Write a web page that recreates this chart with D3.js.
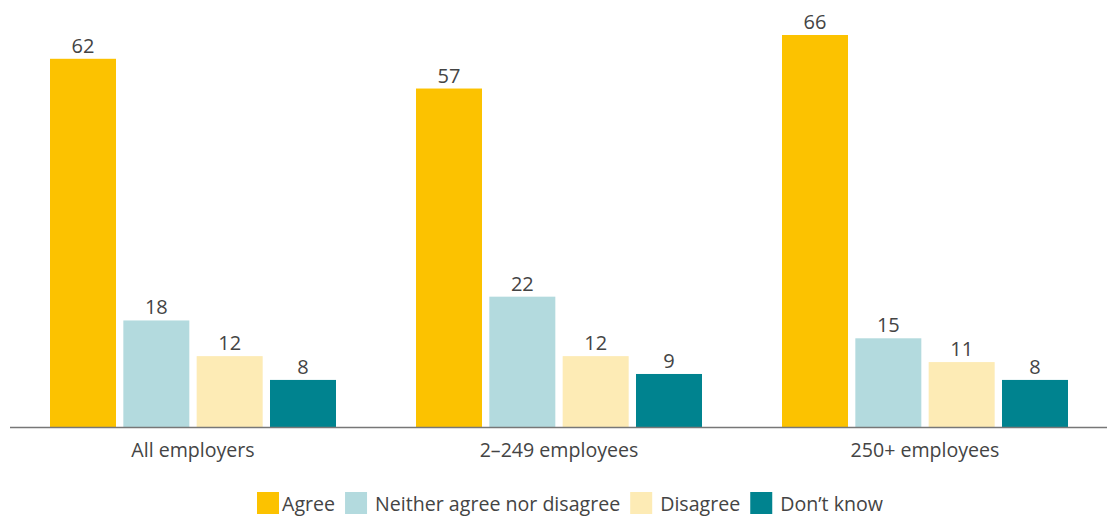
<!DOCTYPE html>
<html>
<head>
<meta charset="utf-8">
<script src="https://cdn.jsdelivr.net/npm/d3@7"></script>
<style>
  body { margin: 0; background: #fff; }
  text { font-family: "Open Sans", "Noto Sans", sans-serif; fill: #444; }
</style>
</head>
<body>
<div id="ChartArea"></div>
<script>
// ------------------------------------------------------------------
// data
const groups = ["All employers", "2\u2013249 employees", "250+ employees"]
const seriesNames = ["Agree", "Neither agree nor disagree", "Disagree", "Don\u2019t know"]
const agree = [62, 57, 66]
const neither = [18, 22, 15]
const disagree = [12, 12, 11]
const dontKnow = [8, 9, 8]
const colors = ["#FCC200", "#B3DADE", "#FDEBB5", "#00838F"]

// ------------------------------------------------------------------
const width = 1107, height = 516

const svg = d3.select("#ChartArea").append("svg")
    .attr("width", width)
    .attr("height", height)

const seriesValues = [agree, neither, disagree, dontKnow]
const data = groups.map(function(g, i) {
  return { group: g, values: seriesNames.map(function(s, j) { return { key: s, value: seriesValues[j][i] } }) }
})

// scales
const x0 = d3.scaleBand()
    .domain(groups)
    .range([10, 1108])
    .paddingInner(0.2186)
    .paddingOuter(0.1093)

const x1 = d3.scaleBand()
    .domain(seriesNames)
    .range([0, x0.bandwidth()])
    .paddingInner(0.1)

const y = d3.scaleLinear()
    .domain([0, 66])
    .range([427.5, 35])

const color = d3.scaleOrdinal().domain(seriesNames).range(colors)

// bars
const g = svg.selectAll(".group")
  .data(data)
  .enter().append("g")
  .attr("class", "group")
  .attr("transform", function(d) { return "translate(" + x0(d.group) + ",0)" })

g.selectAll("rect")
  .data(function(d) { return d.values })
  .enter().append("rect")
  .attr("x", function(d) { return x1(d.key) })
  .attr("y", function(d) { return y(d.value) })
  .attr("width", x1.bandwidth())
  .attr("height", function(d) { return y(0) - y(d.value) })
  .attr("fill", function(d) { return color(d.key) })

// value labels
g.selectAll(".bar-label")
  .data(function(d) { return d.values })
  .enter().append("text")
  .attr("class", "bar-label")
  .attr("x", function(d) { return x1(d.key) + x1.bandwidth() / 2 })
  .attr("y", function(d) { return y(d.value) - 6 })
  .attr("text-anchor", "middle")
  .style("font-size", "20px")
  .text(function(d) { return d.value })

// x axis
const xAxis = svg.append("g")
  .attr("transform", "translate(0," + y(0) + ")")
  .call(d3.axisBottom(x0).tickSize(0).tickPadding(16).tickSizeOuter(0))
xAxis.select(".domain").attr("stroke", "#777").attr("stroke-width", 1.5)
  .attr("d", "M10,0H1107")
xAxis.selectAll("text").style("font-size", "19.6px").attr("fill", "#444")

// legend (starts at x=257)
const legend = svg.append("g").attr("class", "legend").attr("transform", "translate(257,492)")
let lx = 0
seriesNames.forEach(function(s, i) {
  const item = legend.append("g").attr("transform", "translate(" + lx + ",0)")
  item.append("rect").attr("width", 22).attr("height", 22).attr("fill", colors[i])
  const tx = i === 0 ? 25 : 30
  const t = item.append("text").attr("x", tx).attr("y", 19).style("font-size", "19.6px").text(s)
  lx += tx + t.node().getComputedTextLength() + 10
})
</script>
</body>
</html>
